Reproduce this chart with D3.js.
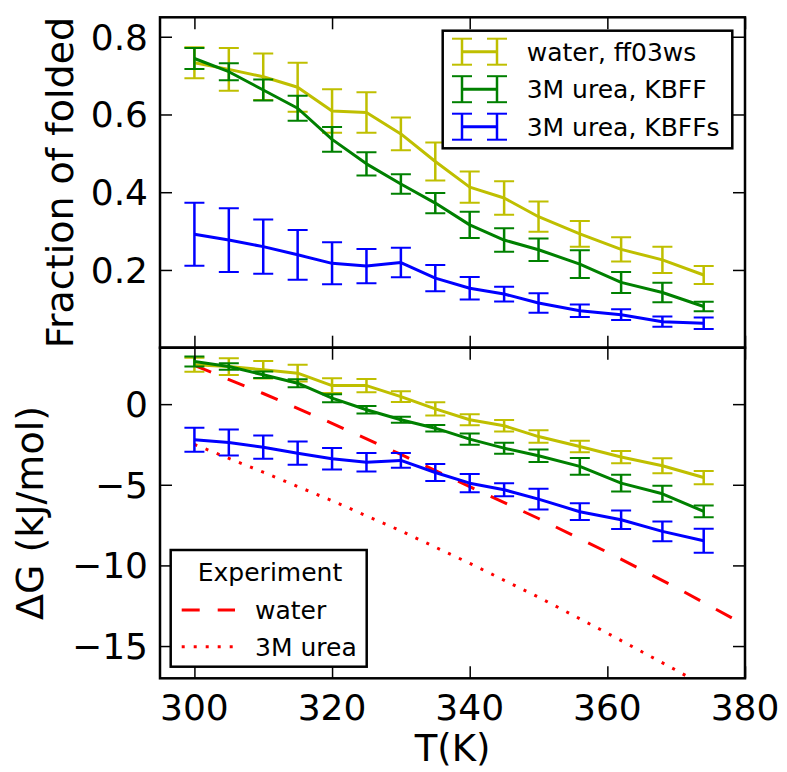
<!DOCTYPE html>
<html><head><meta charset="utf-8">
<script src="https://cdn.jsdelivr.net/npm/d3@7"></script>
<style>body{margin:0;background:#fff}svg{display:block}text{font-family:"DejaVu Sans",sans-serif;fill:#000}</style>
</head><body><svg id="c" width="787" height="772"></svg>
<script>
const T = [300,305,310,315,320,325,330,335,340,345,350,356,362,368,374];
const fracWater = [0.733,0.716,0.697,0.670,0.609,0.605,0.550,0.479,0.413,0.385,0.337,0.293,0.253,0.226,0.187];
const fracWaterErr = [0.040,0.055,0.060,0.063,0.056,0.052,0.042,0.049,0.040,0.043,0.039,0.033,0.031,0.034,0.023];
const fracKBFF = [0.744,0.710,0.663,0.616,0.536,0.473,0.421,0.372,0.316,0.277,0.252,0.215,0.168,0.142,0.106];
const fracKBFFErr = [0.027,0.022,0.027,0.032,0.032,0.030,0.025,0.026,0.034,0.030,0.029,0.036,0.027,0.025,0.012];
const fracKBFFs = [0.292,0.277,0.260,0.239,0.217,0.210,0.219,0.179,0.153,0.138,0.115,0.095,0.085,0.067,0.063];
const fracKBFFsErr = [0.081,0.082,0.070,0.064,0.054,0.044,0.038,0.034,0.029,0.019,0.025,0.016,0.014,0.013,0.015];

const dGWater = [2.44,2.33,2.13,1.92,1.15,1.15,0.47,-0.29,-0.97,-1.34,-2.01,-2.63,-3.28,-3.82,-4.55];
const dGWaterErr = [0.43,0.52,0.54,0.52,0.46,0.41,0.33,0.41,0.34,0.36,0.39,0.36,0.38,0.46,0.41];
const dGKBFF = [2.64,2.33,1.82,1.30,0.37,-0.35,-0.97,-1.49,-2.17,-2.73,-3.20,-3.86,-4.90,-5.56,-6.65];
const dGKBFFErr = [0.31,0.20,0.20,0.25,0.25,0.23,0.19,0.20,0.35,0.34,0.38,0.52,0.52,0.50,0.37];
const dGKBFFs = [-2.21,-2.38,-2.67,-3.04,-3.39,-3.60,-3.49,-4.24,-4.90,-5.31,-5.89,-6.67,-7.17,-7.89,-8.47];
const dGKBFFsErr = [0.74,0.80,0.72,0.72,0.67,0.57,0.46,0.53,0.57,0.40,0.65,0.52,0.57,0.61,0.75];

const expT = [300,310,320,330,340,350,360,370,380];
const expWater = [2.4,0.66,-1.19,-3.12,-5.12,-7.09,-9.18,-11.37,-13.7];
const expUrea = [-2.5,-4.22,-5.99,-7.86,-9.87,-11.97,-14.2,-16.5,-18.9];

const seriesNames = ["water, ff03ws","3M urea, KBFF","3M urea, KBFFs"];
const seriesColors = ["#bfbf00","#008000","#0000ff"];
const expNames = ["water","3M urea"];
const xTicks = [300,320,340,360,380];
const topTicks = [0.2,0.4,0.6,0.8];
const botTicks = [0,-5,-10,-15];

const svg = d3.select("#c");
const L=160, R=745, T0=17.3, MID=347.7, B=678.3;
const x = d3.scaleLinear().domain([295,380]).range([L,R]);
const yTop = d3.scaleLinear().domain([0,0.85]).range([MID,T0]);
const yBot = d3.scaleLinear().domain([-17,3.5]).range([B,MID]);
const fmtMinus = d => (d<0? "\u2212"+Math.abs(d) : String(d));

function panel(id, top, bot){
  svg.append("clipPath").attr("id",id).append("rect").attr("x",L).attr("y",top).attr("width",R-L).attr("height",bot-top);
  return svg.append("g").attr("clip-path",`url(#${id})`);
}
function errSeries(g, y, vals, errs, color){
  const gg = g.append("g");
  T.forEach((t,i)=>{
    const cx=x(t), y1=y(vals[i]+errs[i]), y2=y(vals[i]-errs[i]);
    gg.append("line").attr("x1",cx).attr("x2",cx).attr("y1",y1).attr("y2",y2).attr("stroke",color).attr("stroke-width",2.5);
    [y1,y2].forEach(yy=>gg.append("line").attr("x1",cx-10).attr("x2",cx+10).attr("y1",yy).attr("y2",yy).attr("stroke",color).attr("stroke-width",2));
  });
  const line = d3.line().x((d,i)=>x(T[i])).y(d=>y(d));
  gg.append("path").attr("d",line(vals)).attr("fill","none").attr("stroke",color).attr("stroke-width",3).attr("stroke-linejoin","round");
}

// top panel
const gTop = panel("cTop", T0, MID);
errSeries(gTop, yTop, fracWater, fracWaterErr, seriesColors[0]);
errSeries(gTop, yTop, fracKBFF, fracKBFFErr, seriesColors[1]);
errSeries(gTop, yTop, fracKBFFs, fracKBFFsErr, seriesColors[2]);

// bottom panel
const gBot = panel("cBot", MID, B);
const eline = d3.line().x((d,i)=>x(expT[i])).y(d=>yBot(d));
gBot.append("path").attr("d",eline(expWater)).attr("fill","none").attr("stroke","#ff0000").attr("stroke-width",3).attr("stroke-dasharray","18,18");
gBot.append("path").attr("d",eline(expUrea)).attr("fill","none").attr("stroke","#ff0000").attr("stroke-width",3).attr("stroke-dasharray","3,9");
errSeries(gBot, yBot, dGWater, dGWaterErr, seriesColors[0]);
errSeries(gBot, yBot, dGKBFF, dGKBFFErr, seriesColors[1]);
errSeries(gBot, yBot, dGKBFFs, dGKBFFsErr, seriesColors[2]);

// axes: inward ticks on all sides
function axes(y, top, bot, yt, showX){
  const tl=12;
  const g = svg.append("g");
  g.append("g").attr("transform",`translate(0,${bot})`).call(d3.axisTop(x).tickValues(xTicks).tickSize(tl).tickFormat(""));
  g.append("g").attr("transform",`translate(0,${top})`).call(d3.axisBottom(x).tickValues(xTicks).tickSize(tl).tickFormat(""));
  g.append("g").attr("transform",`translate(${L},0)`).call(d3.axisRight(y).tickValues(yt).tickSize(tl).tickFormat(""));
  g.append("g").attr("transform",`translate(${R},0)`).call(d3.axisLeft(y).tickValues(yt).tickSize(tl).tickFormat(""));
  g.selectAll(".domain").remove();
  g.selectAll(".tick line").attr("stroke","#000").attr("stroke-width",1.5);
  yt.forEach(v=>g.append("text").attr("x",L-12).attr("y",y(v)).attr("dy","0.36em").attr("text-anchor","end").attr("font-size",36).text(y===yTop? v.toFixed(1) : fmtMinus(v)));
  if(showX) xTicks.forEach(v=>g.append("text").attr("x",x(v)).attr("y",bot+14).attr("dy","0.76em").attr("text-anchor","middle").attr("font-size",36).text(v));
  g.append("rect").attr("x",L).attr("y",top).attr("width",R-L).attr("height",bot-top).attr("fill","none").attr("stroke","#000").attr("stroke-width",2.5);
}
axes(yTop, T0, MID, topTicks, false);
axes(yBot, MID, B, botTicks, true);

// axis titles
svg.append("text").attr("transform",`translate(73,${(T0+MID)/2}) rotate(-90)`).attr("text-anchor","middle").attr("font-size",38).text("Fraction of folded");
svg.append("text").attr("transform",`translate(43,${(MID+B)/2}) rotate(-90)`).attr("text-anchor","middle").attr("font-size",38).text("\u0394G (kJ/mol)");
svg.append("text").attr("x",(L+R)/2).attr("y",761).attr("text-anchor","middle").attr("font-size",37).text("T(K)");

// top legend
const lg = svg.append("g");
lg.append("rect").attr("x",442.7).attr("y",30.7).attr("width",289.6).attr("height",117.6).attr("fill","#fff").attr("stroke","#000").attr("stroke-width",2.5);
seriesNames.forEach((n,i)=>{
  const cy = 51.7 + i*37.5, c = seriesColors[i];
  const xa=462, xb=497;
  lg.append("line").attr("x1",xa).attr("x2",xb).attr("y1",cy).attr("y2",cy).attr("stroke",c).attr("stroke-width",3);
  [xa,xb].forEach(xx=>{
    lg.append("line").attr("x1",xx).attr("x2",xx).attr("y1",cy-13).attr("y2",cy+13).attr("stroke",c).attr("stroke-width",2.5);
    [cy-13,cy+13].forEach(yy=>lg.append("line").attr("x1",xx-10).attr("x2",xx+10).attr("y1",yy).attr("y2",yy).attr("stroke",c).attr("stroke-width",2));
  });
  lg.append("text").attr("x",526.7).attr("y",cy).attr("dy","0.36em").attr("font-size",25).text(n);
});

// bottom legend
const lb = svg.append("g");
lb.append("rect").attr("x",170.7).attr("y",550).attr("width",196).attr("height",116.7).attr("fill","#fff").attr("stroke","#000").attr("stroke-width",2.5);
lb.append("text").attr("x",270).attr("y",572).attr("dy","0.36em").attr("text-anchor","middle").attr("font-size",25).text("Experiment");
["18,18","3,9"].forEach((da,i)=>{
  const cy = 610 + i*36.7;
  lb.append("line").attr("x1",181.7).attr("x2",235).attr("y1",cy).attr("y2",cy).attr("stroke","#ff0000").attr("stroke-width",3).attr("stroke-dasharray",da);
  lb.append("text").attr("x",255).attr("y",cy).attr("dy","0.36em").attr("font-size",25).text(expNames[i]);
});
</script></body></html>
